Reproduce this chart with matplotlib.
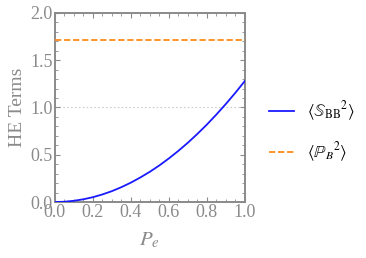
import matplotlib
matplotlib.use('Agg')
import matplotlib.pyplot as plt
from matplotlib.ticker import MultipleLocator

# values
pe = [0.0, 0.05, 0.1, 0.15, 0.2, 0.25, 0.3, 0.35, 0.4, 0.45, 0.5,
      0.55, 0.6, 0.65, 0.7, 0.75, 0.8, 0.85, 0.9, 0.95, 1.0]
s_bb = [0.0, 0.003, 0.013, 0.029, 0.051, 0.08, 0.115, 0.157, 0.205, 0.26, 0.32,
        0.387, 0.461, 0.541, 0.627, 0.72, 0.819, 0.925, 1.037, 1.155, 1.28]
p_b = 1.713
grid_y = 1.0

gray = '#8a8a8a'
plt.rcParams['mathtext.fontset'] = 'stix'
plt.rcParams['font.family'] = ['Liberation Serif', 'DejaVu Serif']

fig = plt.figure(figsize=(3.66, 2.58), dpi=100)
ax = fig.add_axes([0.150, 0.217, 0.519, 0.733])

ax.axhline(grid_y, color='#cccccc', lw=0.8, ls=(0, (1.5, 2)), zorder=1)
ax.plot(pe, s_bb, color='#1a1aff', lw=1.3,
        label=r'$\langle\mathbb{S}_{\mathrm{BB}}{}^{2}\rangle$', zorder=3)
ax.plot([0, 1], [p_b, p_b], color='#ff8c1a', lw=1.3, ls=(0, (3.5, 1.5)),
        label=r'$\langle\mathbb{P}_{B}{}^{2}\rangle$', zorder=3)

ax.set_xlim(0, 1)
ax.set_ylim(0, 2)
ax.xaxis.set_major_locator(MultipleLocator(0.2))
ax.xaxis.set_minor_locator(MultipleLocator(0.05))
ax.yaxis.set_major_locator(MultipleLocator(0.5))
ax.yaxis.set_minor_locator(MultipleLocator(0.1))
ax.tick_params(which='both', direction='in', top=True, right=True,
               color=gray, labelcolor=gray, labelsize=13, pad=1.5)
ax.tick_params(which='major', length=3.5, width=0.8)
ax.tick_params(which='minor', length=2, width=0.6)
for sp in ax.spines.values():
    sp.set_color(gray)
    sp.set_linewidth(1.4)

ax.set_ylabel('HE Terms', color=gray, fontsize=14, labelpad=3)
ax.set_xlabel(r'$P_e$', color=gray, fontsize=15, labelpad=7)

leg = ax.legend(loc='center left', bbox_to_anchor=(1.047, 0.37), frameon=False,
                fontsize=12, handlelength=1.5, labelspacing=1.05, handletextpad=0.8)

fig.savefig('out.png', dpi=100)
